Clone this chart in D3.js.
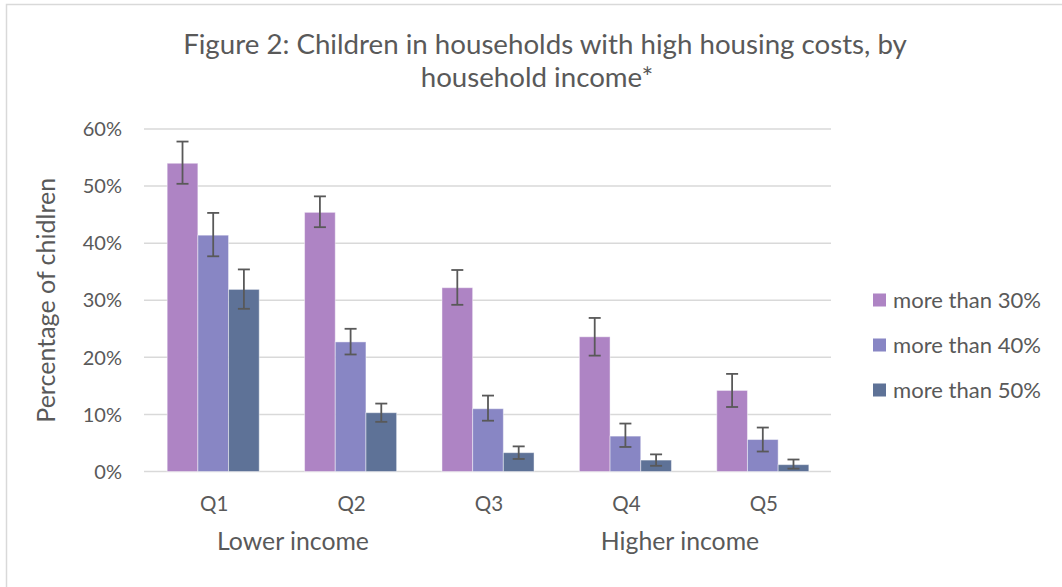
<!DOCTYPE html>
<html>
<head>
<meta charset="utf-8">
<script src="https://cdn.jsdelivr.net/npm/d3@7/dist/d3.min.js"></script>
<style>
  html, body { margin: 0; padding: 0; background: #ffffff; }
  svg { display: block; font-family: Lato, "Open Sans", sans-serif; }
</style>
</head>
<body>
<svg id="chart" width="1062" height="587"></svg>
<script>
// ---- data ----
const categories = ["Q1", "Q2", "Q3", "Q4", "Q5"];
const seriesNames = ["more than 30%", "more than 40%", "more than 50%"];
const more30 = [54.0, 45.4, 32.2, 23.6, 14.2];
const low30  = [50.4, 42.8, 29.2, 20.3, 11.3];
const high30 = [57.8, 48.2, 35.3, 26.9, 17.1];
const more40 = [41.4, 22.7, 11.0, 6.2, 5.6];
const low40  = [37.7, 20.5, 8.9, 4.3, 3.5];
const high40 = [45.3, 25.0, 13.3, 8.4, 7.7];
const more50 = [31.9, 10.3, 3.3, 2.0, 1.2];
const low50  = [28.5, 8.7, 2.2, 1.0, 0.5];
const high50 = [35.4, 11.9, 4.4, 3.0, 2.1];
const yTicks = [0, 10, 20, 30, 40, 50, 60];
const yTickLabels = ["0%", "10%", "20%", "30%", "40%", "50%", "60%"];
const titleLines = ["Figure 2: Children in households with high housing costs, by", "household income*"];
const yTitle = "Percentage of chidlren";
const groupLabels = ["Lower income", "Higher income"];
const colors = ["#ae84c4", "#8886c4", "#5e7297"];

const values = [more30, more40, more50];
const lows = [low30, low40, low50];
const highs = [high30, high40, high50];

const svg = d3.select("#chart");
const textColor = "#595959";

// chart border
svg.append("rect").attr("x", 6.5).attr("y", 4.5).attr("width", 1100).attr("height", 700)
  .attr("fill", "#fff").attr("stroke", "#d9d9d9").attr("stroke-width", 1.5);

// scales
const x = d3.scaleBand().domain(categories).range([144.5, 831.5]).paddingInner(0.33).paddingOuter(0.165);
const xs = d3.scaleBand().domain(d3.range(3)).range([0, x.bandwidth()]).padding(0);
const y = d3.scaleLinear().domain([0, 60]).range([471.5, 129]);

function fit(sel, target) {
  const fs = parseFloat(sel.attr("font-size"));
  const w = sel.node().getComputedTextLength();
  sel.attr("font-size", (fs * target / w).toFixed(2));
  return fs * target / w;
}

// gridlines
svg.append("g").selectAll("line").data(yTicks).join("line")
  .attr("x1", 144).attr("x2", 831)
  .attr("y1", d => y(d)).attr("y2", d => y(d))
  .attr("stroke", "#d9d9d9").attr("stroke-width", 1.5);

// y tick labels
svg.append("g").selectAll("text").data(yTicks).join("text")
  .attr("x", 122).attr("y", d => y(d)).attr("dy", "0.36em")
  .attr("text-anchor", "end").attr("fill", textColor).attr("font-size", 20)
  .text((d, i) => yTickLabels[i]);

// bars
const gCat = svg.append("g").selectAll("g").data(categories).join("g")
  .attr("transform", d => `translate(${x(d)},0)`);

gCat.each(function(cat, ci) {
  const g = d3.select(this);
  for (let s = 0; s < 3; s++) {
    g.append("rect")
      .attr("x", xs(s)).attr("width", xs.bandwidth())
      .attr("y", y(values[s][ci])).attr("height", y(0) - y(values[s][ci]))
      .attr("fill", colors[s]).attr("stroke", "rgba(255,255,255,0.45)").attr("stroke-width", 1);
  }
  for (let s = 0; s < 3; s++) {
    const cx = xs(s) + xs.bandwidth() / 2;
    const eg = g.append("g").attr("stroke", "#595959").attr("stroke-width", 1.8);
    eg.append("line").attr("x1", cx).attr("x2", cx).attr("y1", y(lows[s][ci])).attr("y2", y(highs[s][ci]));
    eg.append("line").attr("x1", cx - 6).attr("x2", cx + 6).attr("y1", y(lows[s][ci])).attr("y2", y(lows[s][ci]));
    eg.append("line").attr("x1", cx - 6).attr("x2", cx + 6).attr("y1", y(highs[s][ci])).attr("y2", y(highs[s][ci]));
  }
});

// x category labels
svg.append("g").selectAll("text").data(categories).join("text")
  .attr("x", d => x(d) + x.bandwidth() / 2 + 1).attr("y", 511)
  .attr("text-anchor", "middle").attr("fill", textColor).attr("font-size", 20.5)
  .text(d => d);

// group labels
const gl = svg.append("g").selectAll("text").data(groupLabels).join("text")
  .attr("x", (d, i) => i === 0 ? 293 : 680).attr("y", 550)
  .attr("text-anchor", "middle").attr("fill", textColor).attr("font-size", 22)
  .text(d => d);
const glSize = fit(d3.select(gl.nodes()[0]), 152);
d3.select(gl.nodes()[1]).attr("font-size", glSize.toFixed(2));

// title
const t1 = svg.append("text").attr("x", 545).attr("y", 54).attr("text-anchor", "middle")
  .attr("fill", textColor).attr("font-size", 26).text(titleLines[0]);
const tSize = fit(t1, 724);
svg.append("text").attr("x", 537).attr("y", 87).attr("text-anchor", "middle")
  .attr("fill", textColor).attr("font-size", tSize.toFixed(2)).text(titleLines[1]);

// y title
const yt = svg.append("text").attr("transform", `translate(55,${y(30)}) rotate(-90)`)
  .attr("text-anchor", "middle").attr("fill", textColor).attr("font-size", 22).text(yTitle);
fit(yt, 245);

// legend
const lg = svg.append("g").selectAll("g").data(seriesNames).join("g")
  .attr("transform", (d, i) => `translate(873,${300 + i * 45})`);
lg.append("rect").attr("x", 0).attr("y", -6.5).attr("width", 13).attr("height", 13)
  .attr("fill", (d, i) => colors[i]);
const lt = lg.append("text").attr("x", 20).attr("y", 0).attr("dy", "0.35em")
  .attr("fill", textColor).attr("font-size", 19.5).text(d => d);
const lSize = fit(d3.select(lt.nodes()[0]), 148);
lt.attr("font-size", lSize.toFixed(2));
</script>
</body>
</html>
